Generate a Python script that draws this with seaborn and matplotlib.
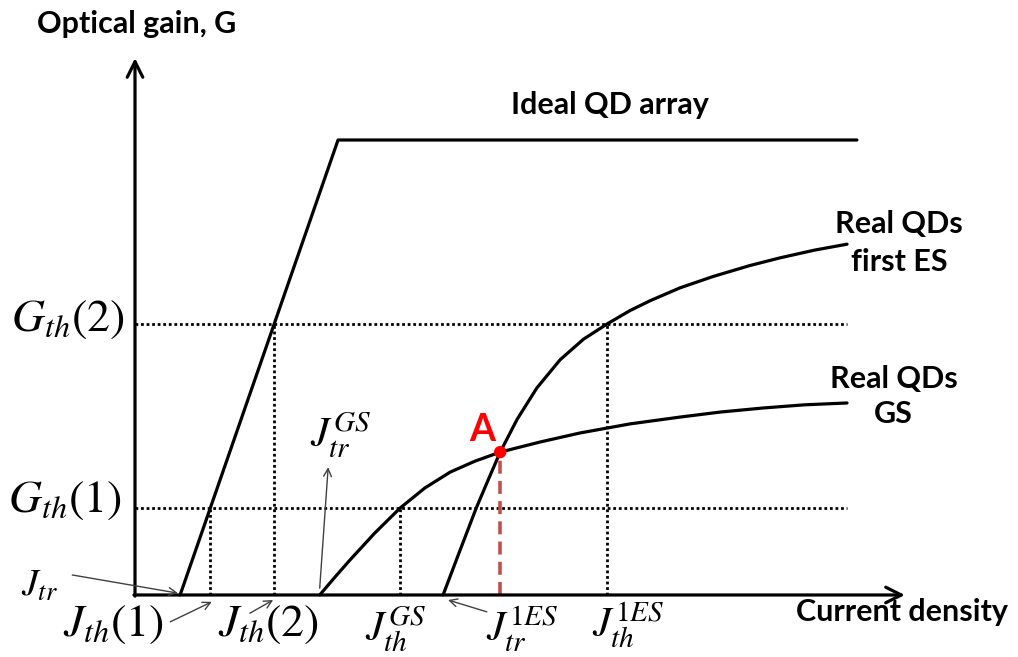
import matplotlib
matplotlib.use("Agg")
import matplotlib.pyplot as plt
import seaborn as sns
import pandas as pd

# ---- data (current density / optical gain, arbitrary units) ----
ideal_j = [6.4, 28.8, 102.4]
ideal_g = [0.0, 100.0, 100.0]

gs_j = [26.2, 28.4, 30.5, 34.0, 37.6, 41.1, 44.7, 48.2, 51.8, 57.4, 63.1,
        70.2, 77.3, 83.0, 89.1, 95.0, 101.0]
gs_g = [0.0, 4.0, 7.7, 13.6, 19.1, 23.5, 27.0, 29.4, 31.4, 33.6, 35.6,
        37.6, 39.1, 40.2, 41.1, 41.8, 42.2]

es_j = [43.7, 46.0, 48.4, 50.1, 51.8, 54.2, 57.0, 60.3, 63.6, 67.0, 70.2,
        73.1, 77.3, 82.0, 87.2, 91.5, 96.4, 101.0]
es_g = [0.0, 9.4, 19.1, 25.3, 31.4, 38.6, 45.5, 51.7, 56.2, 59.6, 62.5,
        64.7, 67.5, 70.0, 72.4, 74.1, 75.8, 77.1]

g_th = [19.1, 59.6]                 # G_th(1), G_th(2)
j_th_ideal = [10.7, 19.7]           # J_th(1), J_th(2)
j_th_gs = 37.6
j_th_es = 67.0
j_tr = 6.4
j_tr_gs = 26.2
j_tr_es = 43.7
point_a = (51.8, 31.4)

x_axis_end = 109.2
y_axis_end = 118.0
dotted_end = 101.0

# ---- figure ----
sns.set_theme(style="white")
plt.rcParams["font.family"] = ["Lato", "DejaVu Sans"]
plt.rcParams["mathtext.fontset"] = "stix"

fig = plt.figure(figsize=(10.18, 6.57), dpi=100)
ax = fig.add_axes([0, 0, 1, 1])
ax.set_xlim(-19.15, 125.25)
ax.set_ylim(-13.63, 130.77)
ax.axis("off")

curve_kw = dict(color="black", linewidth=2.3, ax=ax, legend=False, sort=False)
sns.lineplot(data=pd.DataFrame({"J": ideal_j, "G": ideal_g}), x="J", y="G", **curve_kw)
sns.lineplot(data=pd.DataFrame({"J": gs_j, "G": gs_g}), x="J", y="G", **curve_kw)
sns.lineplot(data=pd.DataFrame({"J": es_j, "G": es_g}), x="J", y="G", **curve_kw)

# axes with arrow heads
arrow_axis = dict(arrowstyle="->", color="black", lw=2.3, mutation_scale=28,
                  shrinkA=0, shrinkB=0)
ax.annotate("", xy=(x_axis_end, 0), xytext=(-0.15, 0), arrowprops=arrow_axis)
ax.annotate("", xy=(0, y_axis_end), xytext=(0, -0.25), arrowprops=arrow_axis)

# threshold guide lines
dot = dict(color="black", linewidth=2.0, linestyle=(0, (1, 1)), zorder=1)
for g in g_th:
    ax.plot([0, dotted_end], [g, g], **dot)
ax.plot([j_th_ideal[0]] * 2, [0, g_th[0]], **dot)
ax.plot([j_th_ideal[1]] * 2, [0, g_th[1]], **dot)
ax.plot([j_th_gs] * 2, [0, g_th[0]], **dot)
ax.plot([j_th_es] * 2, [0, g_th[1]], **dot)

# crossing point A
ax.plot([point_a[0]] * 2, [0, point_a[1]], color="#C0504D", linewidth=2.6,
        linestyle=(0, (3.6, 2.0)), zorder=2)
ax.scatter([point_a[0]], [point_a[1]], s=80, color="#FF0000", zorder=5,
           edgecolor="none")
ax.text(49.2, 36.3, "A", color="#FF0000", fontsize=27, fontweight="bold",
        ha="center", va="center")

# text labels
lab = dict(fontweight="bold", color="black", ha="center", va="center")
ax.text(0.3, 125.6, "Optical gain, G", fontsize=22, **lab)
ax.text(67.4, 107.7, "Ideal QD array", fontsize=22, **lab)
ax.text(108.4, 77.4, "Real QDs\nfirst ES", fontsize=22, linespacing=1.45, **lab)
ax.text(107.6, 43.6, "Real QDs\nGS", fontsize=22, linespacing=1.3, **lab)
ax.text(108.8, -3.7, "Current density", fontsize=22, **lab)

math = dict(color="black", ha="center", va="center")
ax.text(-9.5, 60.5, r"$G_{th}(2)$", fontsize=33, **math)
ax.text(-9.9, 20.6, r"$G_{th}(1)$", fontsize=33, **math)
ax.text(-13.5, 2.2, r"$J_{tr}$", fontsize=27, **math)
ax.text(-3.1, -6.6, r"$J_{th}(1)$", fontsize=33, **math)
ax.text(18.9, -6.6, r"$J_{th}(2)$", fontsize=33, **math)
ax.text(29.1, 35.2, r"$J_{tr}^{GS}$", fontsize=30, **math)
ax.text(36.9, -7.3, r"$J_{th}^{GS}$", fontsize=30, **math)
ax.text(54.9, -7.3, r"$J_{tr}^{1ES}$", fontsize=30, **math)
ax.text(69.9, -6.6, r"$J_{th}^{1ES}$", fontsize=30, **math)

# pointer arrows from labels to the marked points
thin = dict(arrowstyle="->", color="#404040", lw=1.0, mutation_scale=14,
            shrinkA=0, shrinkB=0)
ax.annotate("", xy=(j_tr - 0.3, 0.4), xytext=(-8.9, 4.4), arrowprops=thin)
ax.annotate("", xy=(j_th_ideal[0] + 0.2, -1.5), xytext=(5.0, -5.9), arrowprops=thin)
ax.annotate("", xy=(j_th_ideal[1] - 0.1, -1.1), xytext=(16.3, -4.0), arrowprops=thin)
ax.annotate("", xy=(27.4, 28.1), xytext=(j_tr_gs, 1.5), arrowprops=thin)
ax.annotate("", xy=(j_tr_es + 0.7, -1.1), xytext=(49.9, -3.7), arrowprops=thin)

fig.savefig("out.png", dpi=100)
